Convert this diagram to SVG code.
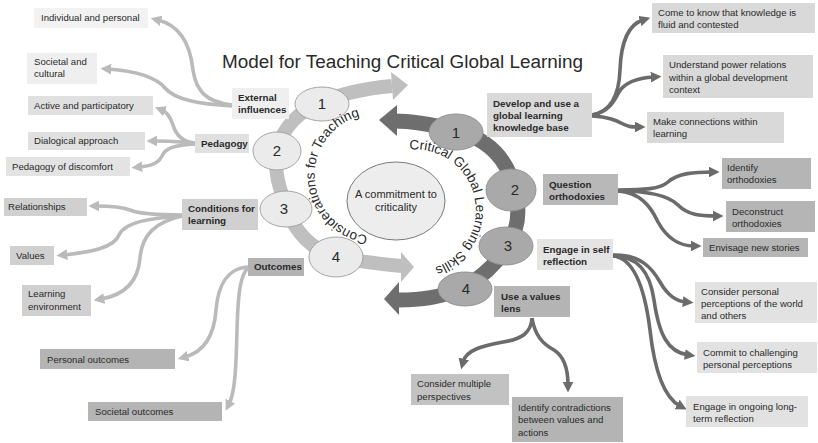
<svg xmlns="http://www.w3.org/2000/svg" xmlns:xlink="http://www.w3.org/1999/xlink" width="818" height="443" viewBox="0 0 818 443">
<style>
text{font-family:"Liberation Sans",Arial,sans-serif;fill:#2a2a2a}
.t{font-size:9.6px}
.b{font-size:9.8px;font-weight:bold}
.num{font-size:15px;text-anchor:middle}
.arc{font-size:13.5px}
.lc{fill:none;stroke:#bababa;stroke-width:3.6}
.dc{fill:none;stroke:#6b6b6b;stroke-width:3.6}
.le{fill:#ebebeb;stroke:#9c9c9c;stroke-width:0.9}
.de{fill:#a9a9a9;stroke:#8e8e8e;stroke-width:0.9}
</style>
<defs>
<marker id="ah-l" viewBox="0 0 10 10" refX="3" refY="5" markerWidth="3" markerHeight="3" orient="auto"><path d="M0,0 L10,5 L0,10 z" fill="#bababa"/></marker>
<marker id="ah-d" viewBox="0 0 10 10" refX="3" refY="5" markerWidth="3" markerHeight="3" orient="auto"><path d="M0,0 L10,5 L0,10 z" fill="#6b6b6b"/></marker>
<path id="p-cons" d="M368.6,235.7 A61,61 0 1 1 386.6,115.1"/>
<path id="p-cgls" d="M407.6,150 A60.5,60.5 0 1 1 420.3,270.3"/>
</defs>

<text x="222" y="68" font-size="18.8" textLength="361" lengthAdjust="spacingAndGlyphs">Model for Teaching Critical Global Learning</text>

<g id="cycles">
<path d="M402,266 C380,264 360,262 336,257 C312,250 295,232 287,209 C280,190 273,170 277,150 C282,128 300,110 322,102 C345,92 370,88 392,86" fill="none" stroke="#bfbfbf" stroke-width="14"/>
<polygon points="391,72 408,85 393,100" fill="#bfbfbf"/>
<polygon points="401,252 414,267 401,282" fill="#bfbfbf"/>
<path d="M395,121 C410,121 425,123 456,130 C480,137 500,150 510,175 C520,200 522,225 507,246 C498,262 485,275 465,287 C440,298 420,300 398,300" fill="none" stroke="#6e6e6e" stroke-width="15"/>
<polygon points="397,105 379,120 397,136" fill="#6e6e6e"/>
<polygon points="399,282 384,299 399,315" fill="#6e6e6e"/>
</g>

<g id="t1"><ellipse class="le" cx="322" cy="104" rx="27" ry="17"/><text class="num" x="322" y="109">1</text></g>
<g id="t2"><ellipse class="le" cx="277" cy="151" rx="24" ry="19"/><text class="num" x="277" y="156">2</text></g>
<g id="t3"><ellipse class="le" cx="286" cy="209" rx="26" ry="18"/><text class="num" x="284" y="214">3</text></g>
<g id="t4"><ellipse class="le" cx="336" cy="257" rx="27" ry="20"/><text class="num" x="336" y="262">4</text></g>

<g id="s1"><ellipse class="de" cx="456" cy="132" rx="27" ry="18"/><text class="num" x="456" y="138">1</text></g>
<g id="s2"><ellipse class="de" cx="511" cy="190" rx="25" ry="21"/><text class="num" x="515" y="195">2</text></g>
<g id="s3"><ellipse class="de" cx="506" cy="246" rx="27" ry="19"/><text class="num" x="508" y="251">3</text></g>
<g id="s4"><ellipse class="de" cx="465" cy="289" rx="27" ry="17"/><text class="num" x="466" y="294">4</text></g>

<g id="core">
<ellipse cx="396" cy="201" rx="49" ry="39" fill="#ededed" stroke="#7a7a7a" stroke-width="1"/>
<text x="396" y="198" font-size="11" text-anchor="middle">A commitment to</text>
<text x="396" y="211" font-size="11" text-anchor="middle">criticality</text>
</g>

<g id="arc-labels">
<text class="arc" font-size="14"><textPath xlink:href="#p-cons" startOffset="1">Considerations for Teaching</textPath></text>
<text class="arc"><textPath xlink:href="#p-cgls" startOffset="2">Critical Global Learning Skills</textPath></text>
</g>

<g id="connectors">
<path class="lc" marker-end="url(#ah-l)" d="M232,105 C205,102 196,90 193,70 C190,42 178,25 158,20"/>
<path class="lc" marker-end="url(#ah-l)" d="M232,106 C200,104 175,100 165,88 C155,76 135,71 108,69"/>
<path class="lc" marker-end="url(#ah-l)" d="M195,143 C182,142 176,135 173,125 C170,116 167,112 162,110"/>
<path class="lc" marker-end="url(#ah-l)" d="M195,143 C180,142 170,141 154,141"/>
<path class="lc" marker-end="url(#ah-l)" d="M195,144 C175,145 165,148 162,156 C158,164 150,166 139,167"/>
<path class="lc" marker-end="url(#ah-l)" d="M182,215 C160,215 140,214 130,210 C122,207 110,206 96,206"/>
<path class="lc" marker-end="url(#ah-l)" d="M182,216 C150,218 125,222 119,235 C114,248 90,252 64,255"/>
<path class="lc" marker-end="url(#ah-l)" d="M182,216 C155,222 142,235 140,258 C138,282 125,295 101,299"/>
<path class="lc" marker-end="url(#ah-l)" d="M248,267 C228,268 218,285 216,310 C214,338 203,352 185,357"/>
<path class="lc" marker-end="url(#ah-l)" d="M248,268 C240,275 238,295 237,330 C236,370 235,392 229,404"/>

<path class="dc" marker-end="url(#ah-d)" d="M592,115 C610,112 619,97 620,70 C621,40 630,24 643,20"/>
<path class="dc" marker-end="url(#ah-d)" d="M592,115 C608,112 614,102 619,92 C625,82 637,78 654,77"/>
<path class="dc" marker-end="url(#ah-d)" d="M592,116 C610,117 617,121 623,124 C629,127 632,127 638,127"/>
<path class="dc" marker-end="url(#ah-d)" d="M618,190 C645,190 660,189 668,182 C678,173 695,172 712,172"/>
<path class="dc" marker-end="url(#ah-d)" d="M618,191 C648,191 668,195 678,205 C688,215 700,216 716,216"/>
<path class="dc" marker-end="url(#ah-d)" d="M618,191 C640,193 650,205 658,222 C668,240 680,246 694,246"/>
<path class="dc" marker-end="url(#ah-d)" d="M613,255 C640,254 652,268 660,282 C668,296 676,301 686,302"/>
<path class="dc" marker-end="url(#ah-d)" d="M613,256 C638,256 650,272 654,300 C659,335 668,352 688,355"/>
<path class="dc" marker-end="url(#ah-d)" d="M613,256 C635,258 645,290 650,330 C655,375 665,398 680,406"/>
<path class="dc" marker-end="url(#ah-d)" d="M532,318 C531,333 522,339 503,342 C482,346 466,350 463,362"/>
<path class="dc" marker-end="url(#ah-d)" d="M532,318 C535,336 543,344 554,350 C565,357 568,370 568,385"/>
</g>

<g id="n-individual"><rect x="34" y="8" width="114" height="20" fill="#f2f2f2"/><text class="t" x="41" y="21">Individual and personal</text></g>
<g id="n-societal"><rect x="27" y="53" width="70" height="31" fill="#efefef"/><text class="t" x="34" y="65">Societal and</text><text class="t" x="34" y="77">cultural</text></g>
<g id="n-external"><rect x="232" y="88" width="57" height="31" fill="#efefef"/><text class="b" x="238" y="101">External</text><text class="b" x="238" y="113">influences</text></g>
<g id="n-active"><rect x="28" y="96" width="125" height="19" fill="#e0e0e0"/><text class="t" x="34" y="109">Active and participatory</text></g>
<g id="n-dialogical"><rect x="28" y="132" width="117" height="18" fill="#e0e0e0"/><text class="t" x="34" y="144">Dialogical approach</text></g>
<g id="n-discomfort"><rect x="6" y="157" width="124" height="19" fill="#e3e3e3"/><text class="t" x="12" y="170">Pedagogy of discomfort</text></g>
<g id="n-pedagogy"><rect x="195" y="134" width="54" height="19" fill="#e0e0e0"/><text class="b" x="201" y="147">Pedagogy</text></g>

<g id="n-relationships"><rect x="4" y="198" width="83" height="18" fill="#d0d0d0"/><text class="t" x="8" y="210">Relationships</text></g>
<g id="n-conditions"><rect x="182" y="199" width="76" height="31" fill="#d0d0d0"/><text class="b" x="188" y="212">Conditions for</text><text class="b" x="188" y="224">learning</text></g>
<g id="n-values"><rect x="10" y="246" width="44" height="19" fill="#d0d0d0"/><text class="t" x="16" y="259">Values</text></g>
<g id="n-environment"><rect x="22" y="285" width="69" height="31" fill="#d0d0d0"/><text class="t" x="28" y="297">Learning</text><text class="t" x="28" y="310">environment</text></g>
<g id="n-outcomes"><rect x="248" y="258" width="56" height="18" fill="#b3b3b3"/><text class="b" x="254" y="270">Outcomes</text></g>
<g id="n-personal"><rect x="40" y="349" width="135" height="20" fill="#b4b4b4"/><text class="t" x="47" y="363">Personal outcomes</text></g>
<g id="n-societal-out"><rect x="88" y="402" width="134" height="19" fill="#b4b4b4"/><text class="t" x="95" y="415">Societal outcomes</text></g>

<g id="n-develop"><rect x="487" y="93" width="105" height="44" fill="#d9d9d9"/><text class="b" x="493" y="107">Develop and use a</text><text class="b" x="493" y="119">global learning</text><text class="b" x="493" y="131">knowledge base</text></g>
<g id="n-come"><rect x="652" y="3" width="163" height="30" fill="#d9d9d9"/><text class="t" x="658" y="16">Come to know that knowledge is</text><text class="t" x="658" y="28">fluid and contested</text></g>
<g id="n-understand"><rect x="663" y="55" width="150" height="43" fill="#d9d9d9"/><text class="t" x="669" y="68">Understand power relations</text><text class="t" x="669" y="81">within a global development</text><text class="t" x="669" y="93">context</text></g>
<g id="n-connections"><rect x="647" y="112" width="137" height="31" fill="#d9d9d9"/><text class="t" x="653" y="125">Make connections within</text><text class="t" x="653" y="137">learning</text></g>

<g id="n-question"><rect x="543" y="174" width="75" height="31" fill="#b8b8b8"/><text class="b" x="549" y="188">Question</text><text class="b" x="549" y="200">orthodoxies</text></g>
<g id="n-identify"><rect x="722" y="158" width="89" height="31" fill="#b5b5b5"/><text class="t" x="727" y="171">Identify</text><text class="t" x="727" y="183">orthodoxies</text></g>
<g id="n-deconstruct"><rect x="726" y="201" width="89" height="31" fill="#b5b5b5"/><text class="t" x="732" y="215">Deconstruct</text><text class="t" x="732" y="227">orthodoxies</text></g>
<g id="n-envisage"><rect x="703" y="238" width="105" height="19" fill="#b5b5b5"/><text class="t" x="709" y="251">Envisage new stories</text></g>

<g id="n-engage"><rect x="537" y="239" width="76" height="31" fill="#e4e4e4"/><text class="b" x="543" y="253">Engage in self</text><text class="b" x="543" y="265">reflection</text></g>
<g id="n-consider-personal"><rect x="695" y="282" width="122" height="41" fill="#e2e2e2"/><text class="t" x="701" y="295">Consider personal</text><text class="t" x="701" y="307">perceptions of the world</text><text class="t" x="701" y="319">and others</text></g>
<g id="n-commit"><rect x="697" y="342" width="120" height="31" fill="#e2e2e2"/><text class="t" x="703" y="356">Commit to challenging</text><text class="t" x="703" y="368">personal perceptions</text></g>
<g id="n-ongoing"><rect x="686" y="396" width="122" height="31" fill="#e2e2e2"/><text class="t" x="693" y="410">Engage in ongoing long-</text><text class="t" x="693" y="422">term reflection</text></g>

<g id="n-lens"><rect x="494" y="286" width="76" height="31" fill="#b4b4b4"/><text class="b" x="501" y="300">Use a values</text><text class="b" x="501" y="312">lens</text></g>
<g id="n-multiple"><rect x="411" y="374" width="98" height="31" fill="#c2c2c2"/><text class="t" x="417" y="387">Consider multiple</text><text class="t" x="417" y="400">perspectives</text></g>
<g id="n-contradictions"><rect x="512" y="397" width="111" height="45" fill="#b4b4b4"/><text class="t" x="518" y="411">Identify contradictions</text><text class="t" x="518" y="423">between values and</text><text class="t" x="518" y="436">actions</text></g>
</svg>
